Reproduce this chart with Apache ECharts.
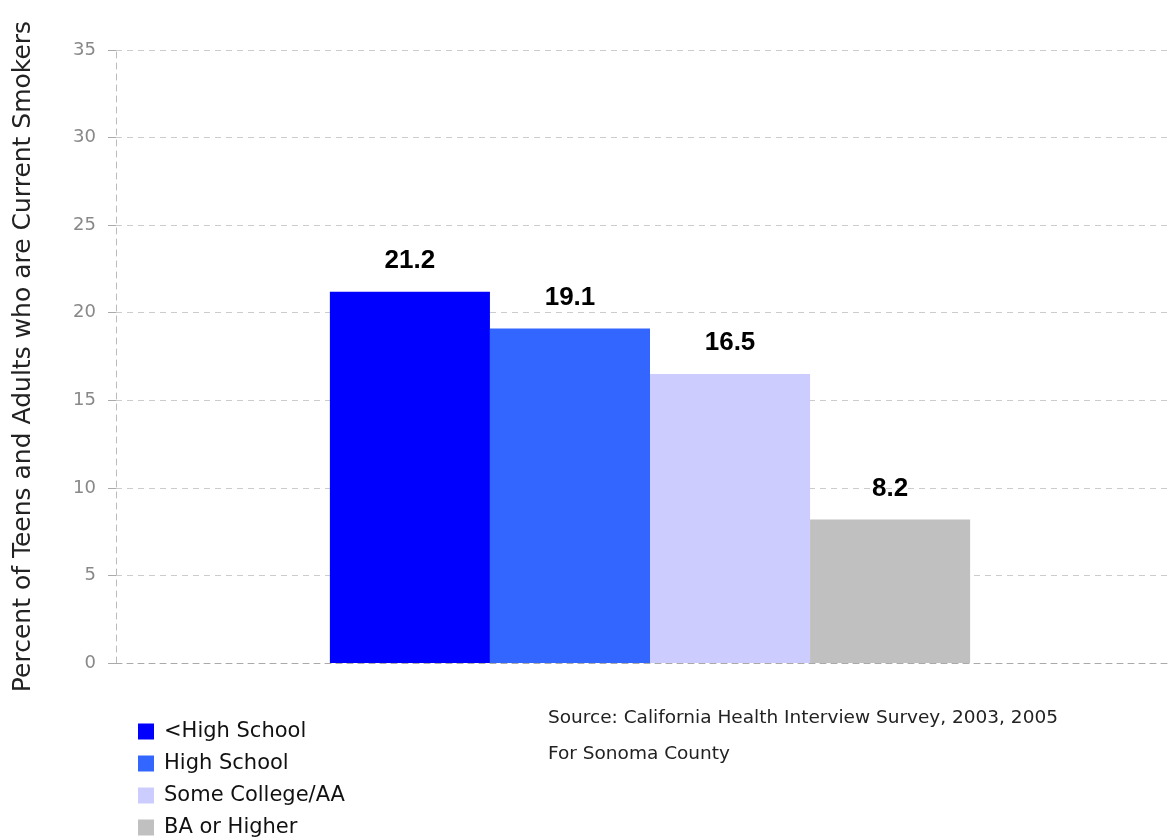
<!DOCTYPE html>
<html><head><meta charset="utf-8">
<script src="https://cdn.jsdelivr.net/npm/echarts@6/dist/echarts.min.js"></script>
<style>html,body{margin:0;padding:0;background:#fff}#c{width:1168px;height:840px}</style>
</head><body><div id="c"></div>
<script>
const categories = ['Sonoma County'];
const seriesNames = ['<High School', 'High School', 'Some College/AA', 'BA or Higher'];
const seriesValues = [[21.2], [19.1], [16.5], [8.2]];
const colors = ['#0000FF', '#3366FF', '#CCCCFF', '#C0C0C0'];
const yTicks = [0, 5, 10, 15, 20, 25, 30, 35];

const chart = echarts.init(document.getElementById('c'));
const font = '"DejaVu Sans", sans-serif';
chart.setOption({
  animation: false,
  grid: [
    {left: 116, right: 0, top: 50, bottom: 177},
    {left: 132, right: 0, top: 50, bottom: 177}
  ],
  legend: {
    orient: 'vertical', left: 133, top: 716, itemGap: 11, height: 140,
    itemWidth: 16, itemHeight: 16, icon: 'rect',
    textStyle: {fontFamily: font, fontSize: 21, color: '#111', padding: [0, 0, 0, 5]},
    data: seriesNames
  },
  graphic: [
    {type: 'text', left: 548, top: 709, style: {text: 'Source: California Health Interview Survey, 2003, 2005', font: '18.5px ' + font, fill: '#222'}},
    {type: 'text', left: 548, top: 745, style: {text: 'For Sonoma County', font: '18.5px ' + font, fill: '#222'}}
  ],
  xAxis: [
    {gridIndex: 0, type: 'category', data: categories,
      axisLine: {lineStyle: {color: '#aaa', type: [6, 5]}},
      axisTick: {show: false}, axisLabel: {show: false}},
    {gridIndex: 1, type: 'category', data: categories, show: false}
  ],
  yAxis: [
    {gridIndex: 0, type: 'value', min: 0, max: 35, interval: 5,
      name: 'Percent of Teens and Adults who are Current Smokers',
      nameLocation: 'middle', nameGap: 80,
      nameTextStyle: {fontFamily: font, fontSize: 25, color: '#222'},
      axisLine: {show: true, lineStyle: {color: '#bbb', type: [6, 5]}},
      axisTick: {show: true, length: 8, lineStyle: {color: '#aaa'}},
      axisLabel: {fontFamily: font, fontSize: 18, color: '#888', margin: 20,
        formatter: v => yTicks.includes(v) ? String(v) : ''},
      splitLine: {lineStyle: {color: '#ccc', type: [6, 5]}}},
    {gridIndex: 1, type: 'value', min: 0, max: 35, interval: 5, show: false,
      splitLine: {show: false}}
  ],
  series: seriesNames.map((n, i) => ({
    name: n, type: 'bar', data: seriesValues[i],
    xAxisIndex: 1, yAxisIndex: 1,
    barGap: '0%', barCategoryGap: '38.2%',
    itemStyle: {color: colors[i]},
    label: {show: true, position: 'top', distance: 18,
      fontFamily: 'Arial, "Liberation Sans", sans-serif', fontWeight: 'bold', fontSize: 26, color: '#000',
      formatter: p => p.value.toFixed(1)}
  }))
});
</script></body></html>
